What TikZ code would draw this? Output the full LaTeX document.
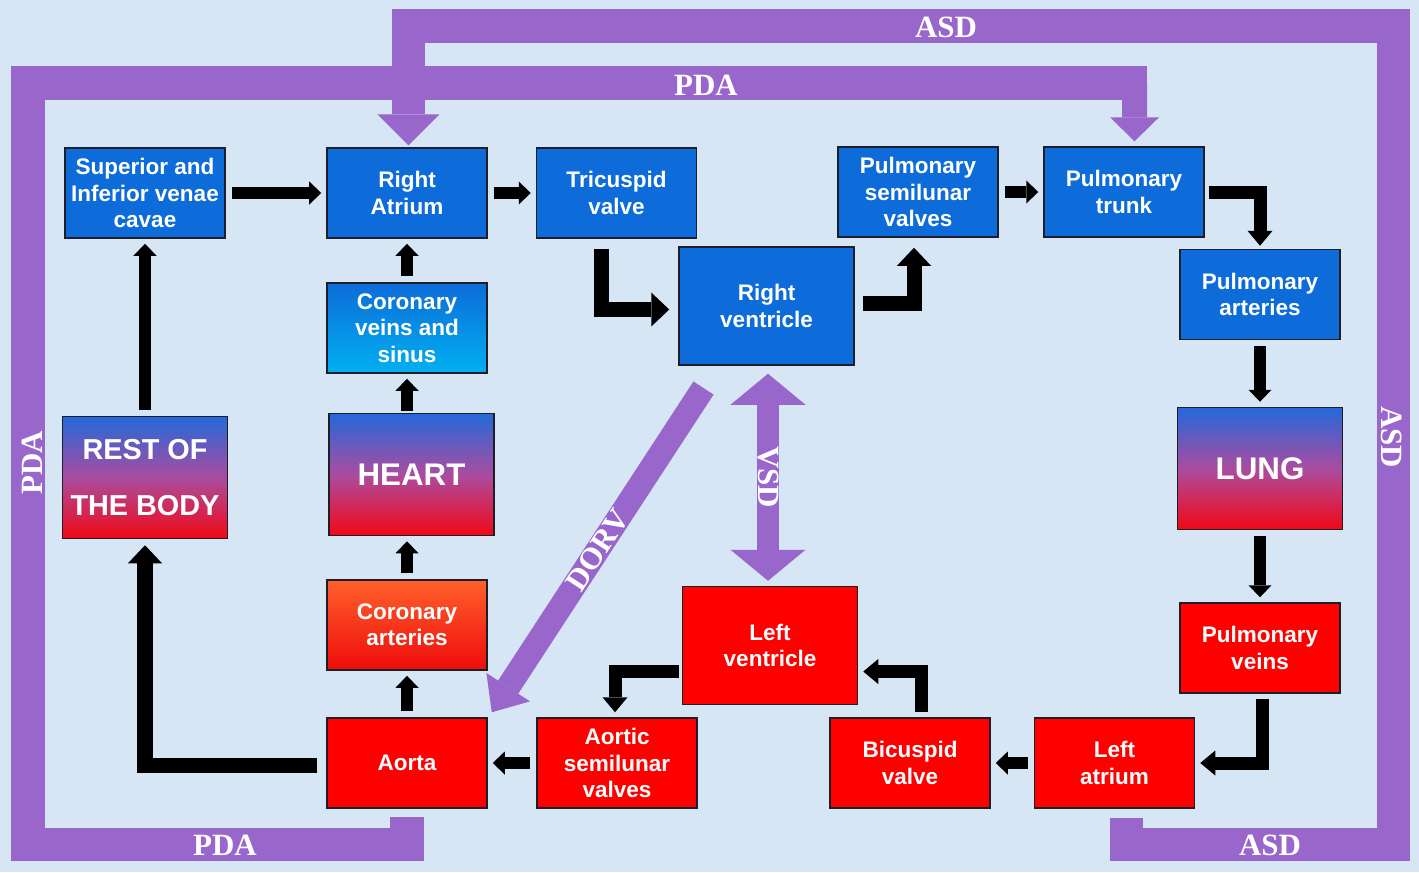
\documentclass[tikz,border=0pt]{standalone}
\usepackage{fontspec}
\setmainfont{Liberation Serif}
\setsansfont{Liberation Sans}
\usetikzlibrary{arrows.meta,positioning,calc}
\definecolor{BgBlue}{RGB}{214,230,244}
\definecolor{BoxBlue}{RGB}{13,108,217}
\definecolor{BoxRed}{RGB}{255,0,0}
\definecolor{EdgeDark}{RGB}{30,30,40}
\definecolor{ShuntPurple}{RGB}{153,102,204}
\definecolor{OrganTop}{RGB}{35,105,218}
\definecolor{OrganMid}{RGB}{170,76,160}
\definecolor{OrganBottom}{RGB}{242,8,20}
\definecolor{ArteryTop}{RGB}{255,96,44}
\definecolor{ArteryBottom}{RGB}{238,12,10}
\definecolor{VeinBottom}{RGB}{0,176,240}

\begin{document}
\begin{tikzpicture}[
      x=0.01cm,y=-0.01cm,
      box/.style={draw=EdgeDark,line width=0.4pt,inner sep=0pt,
                  minimum width=1.60cm,minimum height=0.90cm,align=center,text=white,
                  font=\sffamily\bfseries\fontsize{6.4}{7.5}\selectfont},
      bBox/.style={box,fill=BoxBlue},
      rBox/.style={box,fill=BoxRed},
      bigBox/.style={minimum width=1.75cm,minimum height=1.18cm},
      organ/.style={box,minimum width=1.65cm,minimum height=1.22cm,
                    top color=OrganTop,bottom color=OrganBottom,middle color=OrganMid,
                    font=\sffamily\bfseries\fontsize{8.9}{10}\selectfont},
      ar/.style={-{Triangle[width=0.23cm,length=0.12cm,line width=0pt]},line width=0.12cm,
                 shorten <=0.06cm,shorten >=0.05cm},
      elb/.style={-{Triangle[width=0.25cm,length=0.15cm,line width=0pt]},line width=0.13cm,line join=miter},
      bigElb/.style={-{Triangle[width=0.34cm,length=0.18cm,line width=0pt]},line width=0.15cm,line join=miter},
      shunt/.style={draw=ShuntPurple,line width=0.33cm,line join=miter},
      shuntTxt/.style={text=white,inner sep=0pt,font=\rmfamily\bfseries\fontsize{8.8}{10}\selectfont}
    ]
    \useasboundingbox (0,0) rectangle (1419,872);
    \fill[BgBlue] (0,0) rectangle (1419,872);

    % Right side of the circulation (blue)
    \node(svc)[bBox] at (145,193) {Superior and\\Inferior venae\\cavae};
    \node(ra)[bBox] at (407,193) {Right\\Atrium};
    \node(tv)[bBox] at (616.5,193) {Tricuspid\\valve};
    \node(rv)[bBox,bigBox] at (766.5,306) {Right\\ventricle};
    \node(psv)[bBox] at (918,192) {Pulmonary\\semilunar\\valves};
    \node(pt)[bBox] at (1124,192) {Pulmonary\\trunk};
    \node(pa)[bBox] at (1260,294.5) {Pulmonary\\arteries};

    % Organs
    \node(lung)[organ] at (1260,468.5) {LUNG};
    \node(heart)[organ] at (411.5,474.5) {HEART};
    \node(rob)[organ,font=\sffamily\bfseries\fontsize{8.2}{9.5}\selectfont] at (145,477.5) {REST OF\\[6.4pt]THE BODY};

    % Left side of the circulation (red)
    \node(pv)[rBox] at (1260,648) {Pulmonary\\veins};
    \node(la)[rBox] at (1114.5,763) {Left\\atrium};
    \node(bv)[rBox] at (910,763) {Bicuspid\\valve};
    \node(lv)[rBox,bigBox] at (770,645.5) {Left\\ventricle};
    \node(asv)[rBox] at (617,763) {Aortic\\semilunar\\valves};
    \node(aorta)[rBox] at (407,763) {Aorta};

    % Coronary circulation
    \node(ca)[box,top color=ArteryTop,bottom color=ArteryBottom] at (407,625) {Coronary\\arteries};
    \node(cvs)[box,top color=BoxBlue,bottom color=VeinBottom] at (407,328) {Coronary\\veins and\\sinus};

    % Shunts: PDA and ASD loops
    \coordinate(pdaEnd) at (1147,83);
    \coordinate(pdaDrop) at (1134.5,83);
    \draw[shunt] ([yshift=-0.08cm]aorta.south) |- (28,844) |- (pdaEnd);
    \draw[shunt,line width=0.25cm,-{Triangle[width=0.49cm,length=0.24cm,line width=0pt]}]
      (pdaDrop) -- ([xshift=0.105cm,yshift=0.05cm]pt.north);
    \draw[shunt,-{Triangle[width=0.62cm,length=0.31cm,line width=0pt]}]
      ([shift={(12,9)}]la.south) |- (1393,844) |- (408.5,26) -- ([shift={(1.5,-2)}]ra.north);

    % Shunts: VSD and DORV
    \coordinate(dorvTop) at (703.5,388);
    \draw[shunt,line width=0.22cm,
          {Triangle[width=0.75cm,length=0.31cm,line width=0pt]}-{Triangle[width=0.75cm,length=0.31cm,line width=0pt]}]
      ([shift={(1.5,8)}]rv.south) -- node(vsd)[shuntTxt,rotate=-90]{VSD} ([shift={(-2,-5)}]lv.north);
    \draw[shunt,line width=0.24cm,-{Triangle[width=0.52cm,length=0.30cm,line width=0pt]}]
      (dorvTop) -- node(dorv)[shuntTxt,sloped]{DORV} ([shift={(4,-5)}]aorta.north east);

    % Shunt labels
    \node(asdTop)[shuntTxt] at (946,27) {ASD};
    \node(pdaTop)[shuntTxt] at (706,85) {PDA};
    \node(pdaBot)[shuntTxt] at (225,845) {PDA};
    \node(asdBot)[shuntTxt] at (1270,845) {ASD};
    \node(pdaLeft)[shuntTxt,rotate=90] at (32,463) {PDA};
    \node(asdRight)[shuntTxt,rotate=-90] at (1392,437) {ASD};

    % Flow arrows: right heart to lungs
    \draw[ar] (svc) -- (ra);
    \draw[ar] (ra) -- (tv);
    \draw[bigElb] ([shift={(-15.5,10)}]tv.south) |- ([shift={(-9,3.5)}]rv.west);
    \draw[bigElb] ([shift={(8,-3)}]rv.east) -| ([shift={(-4,10)}]psv.south);
    \draw[ar] (psv) -- (pt);
    \draw[elb] ([xshift=0.04cm]pt.east) -| ([yshift=0.03cm]pa.north);
    \draw[ar] (pa) -- (lung);
    \draw[ar] (lung) -- (pv);

    % Flow arrows: left heart to body
    \draw[elb] ([shift={(2,5)}]pv.south) |- ([xshift=0.05cm]la.east);
    \draw[ar] (la) -- (bv);
    \draw[elb] ([shift={(11.5,-5)}]bv.north) |- ([shift={(5,26)}]lv.east);
    \draw[elb] ([shift={(-3,26)}]lv.west) -| ([shift={(-2,-5)}]asv.north);
    \draw[ar] (asv) -- (aorta);
    \draw[bigElb] ([shift={(-9,2)}]aorta.west) -| ([yshift=-0.06cm]rob.south);
    \draw[ar] (rob) -- (svc);

    % Flow arrows: coronary loop
    \draw[ar] (aorta) -- (ca);
    \draw[ar] (ca) -- (ca |- heart.south);
    \draw[ar,shorten <=0.02cm] (cvs |- heart.north) -- (cvs);
    \draw[ar] (cvs) -- (ra);
  \end{tikzpicture}
\end{document}
